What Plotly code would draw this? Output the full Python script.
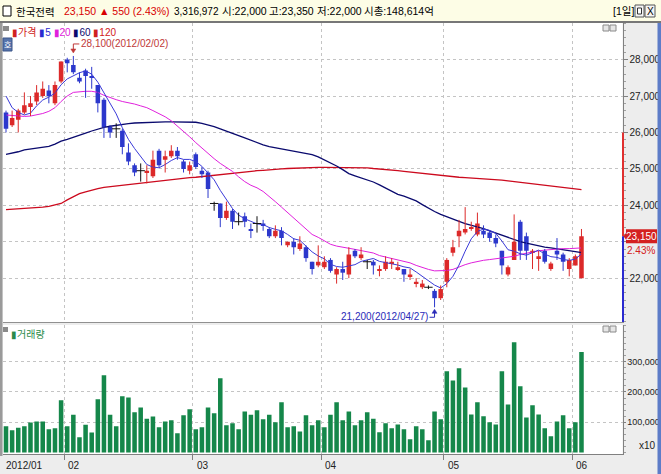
import plotly.graph_objects as go

# ---------------- data ----------------
opens = [26550, 26200, 26350, 26550, 26700, 26850, 27000, 27150, 26800, 27400,
         28000, 27850, 27500, 27700, 27550, 27300, 26900, 26150, 26100, 26050,
         25450, 25100, 24950, 24900, 24800, 25500, 25250, 25350, 25500, 25200,
         24950, 25400, 24950, 24900, 24050, 24050, 23650, 23850, 23550, 23700,
         23350, 23500, 23500, 23350, 23150, 23300, 22900, 23000, 22800, 22850,
         22450, 22350, 22300, 22500, 22100, 22250, 22100, 22750, 22550, 22450,
         22450, 22200, 22250, 22400, 22250, 22250, 22050, 21850, 21750, 21750,
         21650, 21450, 21900, 22700, 23150, 23250, 23350, 23200, 23300, 23250,
         23100, 22750, 22100, 22500, 23550, 23150, 22700, 22550, 22750, 22250,
         22750, 22650, 22250, 22350, 22000]
highs = [26600, 26600, 26650, 27100, 27000, 27300, 27400, 27300, 27400, 27950,
         28050, 28100, 27650, 27750, 27800, 27300, 26950, 26200, 26250, 26100,
         25700, 25150, 25150, 25100, 25500, 25550, 25500, 25650, 25600, 25250,
         25200, 25450, 25050, 24950, 24100, 24050, 24100, 23900, 23800, 23800,
         23500, 23700, 23600, 23400, 23450, 23400, 23000, 23100, 23150, 22900,
         22450, 22900, 22600, 22550, 22300, 22450, 22850, 22800, 22850, 22500,
         22500, 22350, 22600, 22550, 22450, 22250, 22250, 22000, 21950, 21800,
         21700, 21800, 22550, 23050, 23600, 23950, 23550, 23800, 23450, 23300,
         23200, 22750, 22350, 23750, 23600, 23250, 22800, 22750, 22800, 22450,
         23100, 22700, 22550, 22650, 23350]
lows = [26000, 26150, 26000, 26500, 26450, 26750, 26950, 26800, 26750, 27350,
        27650, 27600, 27350, 26950, 27200, 26550, 25850, 25850, 25850, 25400,
        25100, 24800, 24650, 24600, 24750, 25050, 24900, 25300, 25250, 24900,
        24850, 25000, 24750, 24200, 23850, 23400, 23600, 23350, 23450, 23400,
        23100, 23250, 23300, 23100, 23100, 22900, 22850, 22650, 22750, 22450,
        22100, 22300, 22250, 22150, 21850, 21950, 22000, 22550, 22500, 22250,
        22100, 22050, 22200, 22250, 22200, 21900, 21950, 21750, 21700, 21700,
        21200, 21400, 21750, 22600, 22850, 23200, 23300, 23150, 23100, 23000,
        22850, 22100, 22050, 22500, 22500, 22500, 22250, 22200, 22400, 22200,
        22500, 22200, 22050, 22350, 22000]
closes = [26100, 26400, 26600, 26750, 26800, 27100, 27200, 27000, 27300, 27950,
          27900, 27650, 27400, 27550, 27500, 26800, 26150, 26000, 26100, 25600,
          25200, 24900, 24950, 24950, 25250, 25100, 25350, 25500, 25350, 25000,
          25100, 25050, 24850, 24450, 24050, 23650, 23850, 23550, 23550, 23550,
          23300, 23500, 23450, 23150, 23300, 23100, 23000, 22850, 22950, 22550,
          22250, 22450, 22450, 22200, 22250, 22150, 22650, 22600, 22650, 22450,
          22350, 22250, 22450, 22450, 22300, 22100, 22100, 21900, 21850, 21750,
          21450, 21700, 22500, 22850, 23300, 23350, 23400, 23500, 23200, 23100,
          22950, 22350, 22300, 23000, 22750, 22750, 22750, 22600, 22450, 22400,
          22650, 22450, 22500, 22600, 23150]
volumes = [87000, 74000, 82000, 87000, 99000, 103000, 103000, 77000, 80000, 173000,
           87000, 125000, 51000, 92000, 66000, 176000, 255000, 125000, 87000, 186000,
           182000, 133000, 149000, 112000, 119000, 84000, 103000, 107000, 64000, 123000,
           143000, 77000, 84000, 149000, 130000, 245000, 90000, 97000, 77000, 136000,
           125000, 140000, 110000, 125000, 100000, 166000, 84000, 87000, 70000, 123000,
           90000, 107000, 84000, 125000, 166000, 107000, 136000, 90000, 107000, 133000,
           112000, 67000, 97000, 80000, 93000, 77000, 44000, 87000, 77000, 41000,
           136000, 110000, 268000, 238000, 278000, 215000, 126000, 166000, 120000, 100000,
           93000, 268000, 159000, 364000, 219000, 116000, 156000, 126000, 80000, 54000,
           103000, 123000, 80000, 100000, 331697]
ma5 = [27000, 26680, 26550, 26480, 26530, 26730, 26890, 26970, 27080, 27310,
       27470, 27560, 27640, 27690, 27600, 27380, 27080, 26800, 26510, 26130,
       25810, 25560, 25350, 25120, 25050, 25030, 25120, 25230, 25310, 25260,
       25260, 25200, 25070, 24890, 24700, 24410, 24170, 23910, 23730, 23630,
       23560, 23490, 23470, 23390, 23340, 23300, 23200, 23080, 23040, 22890,
       22720, 22610, 22530, 22380, 22320, 22300, 22340, 22370, 22460, 22500,
       22540, 22460, 22430, 22390, 22360, 22310, 22280, 22170, 22050, 21940,
       21810, 21730, 21850, 22050, 22360, 22740, 23080, 23280, 23350, 23310,
       23230, 23020, 22780, 22740, 22670, 22630, 22710, 22770, 22660, 22590,
       22570, 22510, 22490, 22520, 22670]
ma20 = [26480, 26460, 26450, 26440, 26450, 26480, 26520, 26580, 26680, 26850,
        27000, 27100, 27120, 27130, 27130, 27100, 27020, 26950, 26900, 26850,
        26820, 26780, 26730, 26680, 26600, 26520, 26430, 26320, 26180, 26030,
        25880, 25720, 25570, 25420, 25280, 25150, 25030, 24930, 24780, 24650,
        24550, 24480, 24380, 24250, 24100, 23950, 23800, 23650, 23480, 23330,
        23200, 23120, 23030, 22930, 22880, 22840, 22820, 22790, 22760, 22730,
        22690, 22620, 22580, 22540, 22500, 22460, 22420, 22350, 22290, 22240,
        22200, 22200, 22210, 22240, 22310, 22370, 22420, 22460, 22490, 22510,
        22530, 22540, 22560, 22600, 22650, 22690, 22720, 22750, 22770, 22790,
        22800, 22810, 22810, 22820, 22830]
ma60 = [25400, 25430, 25470, 25520, 25550, 25570, 25590, 25620, 25680, 25760,
        25810, 25860, 25920, 25980, 26040, 26100, 26140, 26170, 26200, 26220,
        26240, 26260, 26270, 26280, 26290, 26290, 26290, 26290, 26290, 26290,
        26280, 26280, 26250, 26210, 26160, 26100, 26030, 25970, 25910, 25850,
        25780, 25720, 25660, 25610, 25580, 25550, 25520, 25490, 25470, 25430,
        25390, 25330, 25250, 25170, 25080, 24980, 24870, 24810, 24760, 24710,
        24640, 24560, 24470, 24390, 24300, 24250, 24190, 24120, 24020, 23920,
        23830, 23750, 23680, 23620, 23560, 23500, 23460, 23410, 23360, 23300,
        23240, 23160, 23100, 23050, 23000, 22960, 22920, 22880, 22850, 22830,
        22810, 22790, 22760, 22730, 22700]
ma120 = [23880, 23890, 23900, 23920, 23930, 23940, 23950, 23970, 24000, 24050,
         24150, 24240, 24320, 24370, 24420, 24460, 24490, 24510, 24530, 24550,
         24570, 24590, 24610, 24630, 24650, 24670, 24700, 24720, 24740, 24750,
         24760, 24770, 24790, 24810, 24830, 24850, 24860, 24880, 24890, 24910,
         24930, 24950, 24960, 24980, 24990, 25000, 25010, 25020, 25030, 25035,
         25040, 25040, 25040, 25040, 25040, 25040, 25040, 25035, 25030, 25030,
         25010, 25000, 24980, 24960, 24950, 24930, 24910, 24890, 24870, 24850,
         24830, 24810, 24790, 24780, 24770, 24760, 24750, 24740, 24730, 24720,
         24700, 24690, 24670, 24650, 24630, 24610, 24590, 24570, 24550, 24530,
         24510, 24490, 24470, 24450, 24430]
month_labels = ['2012/01', '02', '03', '04', '05', '06']
month_first_bar = [0, 10, 31, 52, 72, 93]
price_ticks = [22000, 23000, 24000, 25000, 26000, 27000, 28000]
volume_ticks = [100000, 200000, 300000]
high_note = '28,100(2012/02/02)'
low_note = '21,200(2012/04/27)'
upper_limit = 26000
last_change_pct = '2.43%'

# ---------------- styling ----------------
W, H = 661, 474
UP, DOWN, DOJI = '#dc2a2a', '#2c38cc', '#111111'
VOLC = '#15874a'
GRID = '#c4c4c4'
SANS = 'Liberation Sans, Noto Sans CJK KR, sans-serif'
KFONT = 'Noto Sans CJK KR, Liberation Sans, sans-serif'


def px(x):
    return x / W


def py(y):
    return 1 - y / H


n = len(closes)
idx = list(range(n))
bounds = [b - 0.5 for b in month_first_bar[1:]]
last = closes[-1]

wick = {'up': ([], []), 'down': ([], []), 'doji': ([], [])}
body_base, body_h, body_col = [], [], []
doji_x, doji_y = [], []
for i, (o, h, l, c) in enumerate(zip(opens, highs, lows, closes)):
    key = 'up' if c > o else ('down' if c < o else 'doji')
    wick[key][0].extend([i, i, None])
    wick[key][1].extend([l, h, None])
    body_base.append(min(o, c))
    body_h.append(abs(c - o))
    body_col.append({'up': UP, 'down': DOWN, 'doji': DOJI}[key])
    if key == 'doji':
        doji_x.append(i)
        doji_y.append(c)

fig = go.Figure()

for arr, col, wdt in [(ma120, '#cc0a1e', 1.3), (ma60, '#0a0a6e', 1.3),
                      (ma20, '#e020dc', 1.0), (ma5, '#3a3ad8', 1.0)]:
    fig.add_trace(go.Scatter(x=idx, y=arr, mode='lines', line=dict(color=col, width=wdt),
                             xaxis='x2', yaxis='y', hoverinfo='skip'))

for key, col in [('up', UP), ('down', DOWN), ('doji', DOJI)]:
    fig.add_trace(go.Scatter(x=wick[key][0], y=wick[key][1], mode='lines',
                             line=dict(color=col, width=1), xaxis='x2', yaxis='y',
                             hoverinfo='skip'))

fig.add_trace(go.Bar(x=idx, y=body_h, base=body_base, width=0.74,
                     marker=dict(color=body_col, line=dict(width=0)),
                     xaxis='x2', yaxis='y', hoverinfo='skip'))
fig.add_trace(go.Scatter(x=doji_x, y=doji_y, mode='markers',
                         marker=dict(symbol='line-ew', size=6, line=dict(color=DOJI, width=1)),
                         xaxis='x2', yaxis='y', hoverinfo='skip'))

fig.add_trace(go.Bar(x=idx, y=volumes, width=0.74, marker=dict(color=VOLC, line=dict(width=0)),
                     xaxis='x', yaxis='y2', hoverinfo='skip'))

xdom = [px(3), px(622.5)]
xr = [-0.49, 100.7]
axfont = dict(family=SANS, size=10, color='#222222')

fig.update_layout(
    width=W, height=H, margin=dict(l=0, r=0, t=0, b=0),
    paper_bgcolor='#ededed', plot_bgcolor='#ffffff',
    showlegend=False, barmode='overlay', hovermode=False,
    xaxis=dict(domain=xdom, range=xr, anchor='y2', tickmode='array', tickvals=bounds,
               ticks='outside', ticklen=5, tickcolor='#808080', showticklabels=False,
               showgrid=True, gridcolor=GRID, griddash='3px,3px', gridwidth=1,
               showline=True, linecolor='#808080', zeroline=False),
    xaxis2=dict(domain=xdom, range=xr, anchor='y', matches='x', tickmode='array', tickvals=bounds,
                ticks='', showticklabels=False, showgrid=True, gridcolor=GRID,
                griddash='3px,3px', gridwidth=1, showline=True, linecolor='#909090',
                zeroline=False),
    yaxis=dict(domain=[py(322), py(23)], range=[20796, 29005], side='right', anchor='x2',
               tickmode='array', tickvals=price_ticks,
               ticktext=['' if v == 23000 else f'{v:,}' for v in price_ticks],
               ticks='outside', ticklen=4, tickcolor='#808080', tickfont=axfont,
               minor=dict(dtick=200, ticks='outside', ticklen=2, tickcolor='#a0a0a0', showgrid=False),
               showgrid=True, gridcolor=GRID, griddash='3px,3px', gridwidth=1,
               showline=True, linecolor='#808080', zeroline=False),
    yaxis2=dict(domain=[py(454), py(325)], range=[-4600, 421000], side='right', anchor='x',
                tickmode='array', tickvals=volume_ticks, ticktext=[f'{v:,}' for v in volume_ticks],
                ticks='outside', ticklen=2, tickcolor='#808080',
                tickfont=dict(family=SANS, size=9, color='#222222'),
                minor=dict(dtick=20000, ticks='outside', ticklen=2, tickcolor='#a0a0a0', showgrid=False),
                showgrid=True, gridcolor=GRID, griddash='3px,3px', gridwidth=1,
                showline=True, linecolor='#808080', zeroline=False),
)

shapes = []
ann = []


def prect(x0, y0, x1, y1, fill, line=None, lw=1, layer='above'):
    shapes.append(dict(type='rect', xref='paper', yref='paper', x0=px(x0), x1=px(x1),
                       y0=py(y1), y1=py(y0), fillcolor=fill, layer=layer,
                       line=dict(color=line or fill, width=lw if line else 0)))


def ptext(x, y, text, color='#000', size=10.5, family=SANS, xanchor='left'):
    ann.append(dict(xref='paper', yref='paper', x=px(x), y=py(y), text=text, showarrow=False,
                    xanchor=xanchor, yanchor='middle',
                    font=dict(family=family, size=size, color=color)))


# window borders
prect(0, 22, 2.5, 456, '#9a9a9a')
prect(657.5, 22, 661, 474, '#5d7cc8')
# title bar
prect(0, 0, 661, 22, '#fdfde6')
shapes.append(dict(type='line', xref='paper', yref='paper', x0=0, x1=1, y0=py(22), y1=py(22),
                   line=dict(color='#777777', width=2)))
prect(3, 6, 11, 16, '#ffffff', '#000000', 1)
ptext(14, 11.5, '한국전력', '#000', 10.5, KFONT)
ptext(62, 11.5, '23,150 ▲ 550 (2.43%)', '#d80000', 10.5)
ptext(172, 11.5, '3,316,972', '#000', 10)
ptext(220, 11.5, '시:22,000', '#000', 10.5)
ptext(267, 11.5, '고:23,350', '#000', 10.5)
ptext(315, 11.5, '저:22,000', '#000', 10.5)
ptext(362, 11.5, '시총:148,614억', '#000', 10.5)
ptext(611, 11.5, '[1일]', '#000', 10.5)
prect(635, 5, 644, 17, '#f4f4f4', '#555555', 1)
prect(637.5, 8, 641.5, 14, '#ffffff', '#333333', 1)
prect(645, 5, 655, 17, '#f4f4f4', '#555555', 1)
ptext(650, 11.5, 'X', '#000', 10, SANS, 'center')

# price panel legend
prect(3, 26, 9, 31, '#8a8a8a')
ann.append(dict(xref='paper', yref='paper', x=px(10), y=py(32), xanchor='left', yanchor='middle',
                showarrow=False, font=dict(family=SANS, size=10),
                text=("<span style='color:#d02020'>▮가격</span> "
                      "<span style='color:#2a2ad0'>▮5</span> "
                      "<span style='color:#e020dc'>▮20</span> "
                      "<span style='color:#0a0a6e'>▮60</span> "
                      "<span style='color:#d02020'>▮120</span>")))
prect(3, 38, 12, 51, '#5674ac', '#3a5488', 1)
ptext(7.5, 44.5, '호', '#ffffff', 8, KFONT, 'center')

# panel icons
for top in (25, 326):
    prect(603, top, 609, top + 6, '#e6e6e6', '#8a8a8a', 1)
    prect(610, top, 616, top + 6, '#e6e6e6', '#8a8a8a', 1)

# high / low notes
hi_i = highs.index(max(highs))
lo_i = lows.index(min(lows))
shapes.append(dict(type='path', xref='x2', yref='y', xsizemode='pixel', ysizemode='pixel',
                   xanchor=hi_i, yanchor=highs[hi_i], path='M 6,12 L 0,12 L 0,6',
                   line=dict(color='#c03838', width=1)))
shapes.append(dict(type='path', xref='x2', yref='y', xsizemode='pixel', ysizemode='pixel',
                   xanchor=hi_i, yanchor=highs[hi_i], path='M -2.5,7 L 2.5,7 L 0,3 Z',
                   fillcolor='#c03838', line=dict(color='#c03838', width=0.5)))
ann.append(dict(xref='x2', yref='y', x=hi_i, y=highs[hi_i], xshift=6, yshift=12, text=high_note,
                showarrow=False, xanchor='left', yanchor='middle',
                font=dict(family=SANS, size=10, color='#c03838')))
shapes.append(dict(type='path', xref='x2', yref='y', xsizemode='pixel', ysizemode='pixel',
                   xanchor=lo_i, yanchor=lows[lo_i], path='M -5,-10 L 0,-10 L 0,-4',
                   line=dict(color='#2a2ab8', width=1)))
shapes.append(dict(type='path', xref='x2', yref='y', xsizemode='pixel', ysizemode='pixel',
                   xanchor=lo_i, yanchor=lows[lo_i], path='M -2.5,-6 L 2.5,-6 L 0,-2 Z',
                   fillcolor='#2a2ab8', line=dict(color='#2a2ab8', width=0.5)))
ann.append(dict(xref='x2', yref='y', x=lo_i, y=lows[lo_i], xshift=-5, yshift=-9, text=low_note,
                showarrow=False, xanchor='right', yanchor='middle',
                font=dict(family=SANS, size=10, color='#2a2ab8')))

# right axis price band
shapes.append(dict(type='line', xref='paper', yref='y', x0=px(623), x1=px(623), y0=upper_limit, y1=last,
                   line=dict(color='#e03030', width=2)))
shapes.append(dict(type='line', xref='paper', yref='y', x0=px(623), x1=px(623), y0=last, y1=20796,
                   line=dict(color='#2a2ad0', width=2)))
shapes.append(dict(type='rect', xref='paper', yref='y', x0=px(626), x1=px(657),
                   ysizemode='pixel', yanchor=last, y0=-7, y1=7,
                   line=dict(width=0), fillcolor='#d42020'))
shapes.append(dict(type='path', xref='paper', yref='y', ysizemode='pixel',
                   yanchor=last, path=f'M {px(626.5)},4 L {px(623.5)},0 L {px(626.5)},-4 Z',
                   fillcolor='#d42020', line=dict(width=0)))
ann.append(dict(xref='paper', yref='y', x=px(641.5), y=last, text=f'{last:,}', showarrow=False,
                xanchor='center', yanchor='middle', font=dict(family=SANS, size=10, color='#ffffff')))
ann.append(dict(xref='paper', yref='y', x=px(657), y=last, yshift=-14, text=last_change_pct,
                showarrow=False, xanchor='right', yanchor='middle',
                font=dict(family=SANS, size=10, color='#d42020')))

# volume panel label and unit
prect(3, 327, 8, 332, '#8a8a8a')
ptext(9, 333, '▮거래량', '#2a8a4a', 10, KFONT)
ptext(647, 445, 'x10', '#222', 10, SANS, 'center')

# month labels under the x axis
for lab, b in zip(month_labels, month_first_bar):
    if b == 0:
        ann.append(dict(xref='paper', yref='paper', x=px(4), y=py(465), text=lab, showarrow=False,
                        xanchor='left', yanchor='middle', font=dict(family=SANS, size=10, color='#222')))
    else:
        ann.append(dict(xref='x', yref='paper', x=b - 0.5, y=py(465), xshift=2, text=lab,
                        showarrow=False, xanchor='left', yanchor='middle',
                        font=dict(family=SANS, size=10, color='#222')))

fig.update_layout(shapes=shapes, annotations=ann)
fig.write_html('out.html')
